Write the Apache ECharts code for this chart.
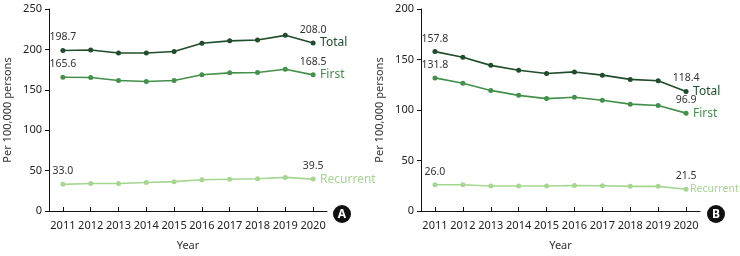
<!DOCTYPE html>
<html>
<head>
<meta charset="utf-8">
<script src="https://cdn.jsdelivr.net/npm/echarts@6/dist/echarts.min.js"></script>
<style>
  html, body { margin: 0; padding: 0; background: #fff; }
  #chart { width: 740px; height: 256px; }
</style>
</head>
<body>
<div id="chart"></div>
<script>
const years = ['2011', '2012', '2013', '2014', '2015', '2016', '2017', '2018', '2019', '2020']

// panel A
const totalA = [198.7, 199.3, 195.6, 195.5, 197.4, 207.6, 210.6, 211.6, 217.4, 208.0]
const firstA = [165.6, 165.2, 161.6, 160.2, 161.5, 168.6, 171.0, 171.4, 175.4, 168.5]
const recurA = [33.0, 34.0, 34.0, 35.2, 36.3, 38.6, 39.3, 40.0, 41.6, 39.5]

// panel B
const totalB = [157.8, 152.3, 144.2, 139.4, 136.1, 137.7, 134.5, 130.3, 129.0, 118.4]
const firstB = [131.8, 126.5, 119.4, 114.5, 111.3, 112.6, 109.7, 105.8, 104.5, 96.9]
const recurB = [26.0, 26.0, 24.7, 24.7, 24.7, 25.3, 25.0, 24.4, 24.4, 21.5]

const FONT = 'Noto Sans'
const colors = { Total: '#1f4d2c', First: '#43904a', Recurrent: '#a6d690' }

const chart = echarts.init(document.getElementById('chart'))

// label only the first and the last point
const withEndLabels = vals => vals.map((v, i) => ({
  value: v,
  label: { show: i === 0 || i === vals.length - 1 }
}))

const makeSeries = (name, vals, idx, nameSize = 12, nameGap = 7) => ({
  name,
  type: 'line',
  xAxisIndex: idx,
  yAxisIndex: idx,
  data: withEndLabels(vals),
  symbol: 'circle',
  symbolSize: 5,
  lineStyle: { color: colors[name], width: 1.6 },
  itemStyle: { color: colors[name] },
  label: {
    position: 'top',
    distance: 5,
    color: '#333',
    fontFamily: FONT,
    fontSize: 10.5,
    formatter: p => p.value.toFixed(1)
  },
  endLabel: {
    show: true,
    formatter: name,
    color: colors[name],
    fontFamily: FONT,
    fontSize: nameSize,
    distance: nameGap
  },
  animation: false
})

const xAxisBase = gi => ({
  type: 'category',
  gridIndex: gi,
  data: years,
  name: 'Year',
  nameLocation: 'middle',
  nameGap: 29,
  nameTextStyle: { color: '#333', fontFamily: FONT, fontSize: 11 },
  axisLine: { lineStyle: { color: '#111', width: 1 } },
  axisTick: { show: true, inside: true, length: 4, alignWithLabel: true, lineStyle: { color: '#111' } },
  axisLabel: { color: '#222', fontFamily: FONT, fontSize: 11, margin: 9, interval: 0 },
  splitLine: { show: false }
})

const yAxisBase = (gi, max) => ({
  type: 'value',
  gridIndex: gi,
  min: 0,
  max,
  interval: 50,
  name: 'Per 100,000 persons',
  nameLocation: 'middle',
  nameGap: 36,
  nameTextStyle: { color: '#333', fontFamily: FONT, fontSize: 11 },
  axisLine: { show: true, lineStyle: { color: '#111', width: 1 } },
  axisTick: { show: true, length: 4, lineStyle: { color: '#111' } },
  axisLabel: { color: '#222', fontFamily: FONT, fontSize: 11, margin: 7 },
  splitLine: { show: false }
})

const badge = (x, y, letter) => ({
  type: 'group',
  x, y,
  children: [
    { type: 'circle', shape: { cx: 0, cy: 0, r: 9 }, style: { fill: '#111' } },
    { type: 'text', style: { text: letter, x: 0, y: 0.5, fill: '#fff', font: 'bold 12px ' + FONT, align: 'center', verticalAlign: 'middle' } }
  ]
})

chart.setOption({
  backgroundColor: '#fff',
  grid: [
    { left: 49, top: 9, width: 278, height: 206 },
    { left: 421, top: 9, width: 279, height: 206 }
  ],
  xAxis: [xAxisBase(0), xAxisBase(1)],
  yAxis: [yAxisBase(0, 250), yAxisBase(1, 200)],
  series: [
    makeSeries('Total', totalA, 0),
    makeSeries('First', firstA, 0),
    makeSeries('Recurrent', recurA, 0),
    makeSeries('Total', totalB, 1),
    makeSeries('First', firstB, 1),
    // little room left at the right edge of panel B
    makeSeries('Recurrent', recurB, 1, 10.5, 4)
  ],
  graphic: [badge(342, 214, 'A'), badge(716, 214, 'B')]
})
</script>
</body>
</html>
